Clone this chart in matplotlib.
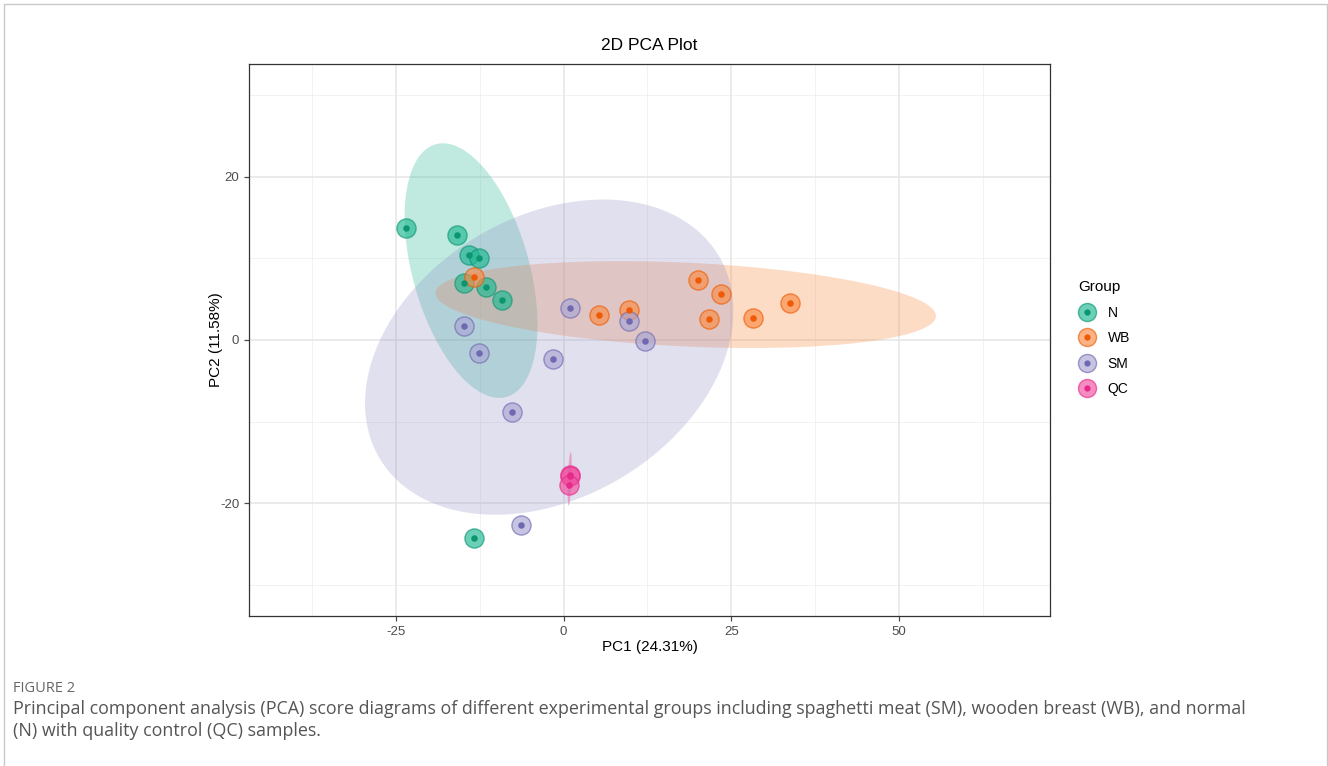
import numpy as np
import matplotlib
matplotlib.use("Agg")
import matplotlib.pyplot as plt
from matplotlib.lines import Line2D

# ---------------- data ----------------
groups = ["N", "WB", "SM", "QC"]

n_pc1 = [-23.5, -15.9, -14.1, -12.6, -14.9, -11.5, -9.2, -13.4]
n_pc2 = [13.7, 12.8, 10.4, 10.0, 7.0, 6.5, 4.9, -24.2]

wb_pc1 = [-13.4, 5.2, 9.7, 20.1, 23.4, 21.6, 28.3, 33.8]
wb_pc2 = [7.7, 3.1, 3.7, 7.3, 5.6, 2.6, 2.7, 4.5]

sm_pc1 = [-14.9, -12.6, -1.6, -7.7, -6.4, 1.0, 9.8, 12.1]
sm_pc2 = [1.7, -1.6, -2.3, -8.8, -22.6, 3.9, 2.3, -0.1]

qc_pc1 = [0.95, 1.0, 0.85]
qc_pc2 = [-16.5, -16.7, -17.7]

# confidence ellipse parameters: centre and shape matrix
ell_cx = [-13.8, 18.2, -2.15, 0.9]
ell_cy = [8.5, 4.34, -2.1, -17.0]
ell_sxx = [98.0, 1391.0, 753.5, 0.09]
ell_syy = [243.0, 28.3, 372.5, 10.9]
ell_sxy = [-65.5, -52.0, 155.0, 0.5]

x_ticks = [-25, 0, 25, 50]
y_ticks = [-20, 0, 20]

title = "2D PCA Plot"
xlabel = "PC1 (24.31%)"
ylabel = "PC2 (11.58%)"
caption_head = "FIGURE 2"
caption_text = ("Principal component analysis (PCA) score diagrams of different experimental groups including spaghetti meat (SM), wooden breast (WB), and normal\n"
                "(N) with quality control (QC) samples.")

# ---------------- style ----------------
outer_col = {"N": "#1DB892", "WB": "#FA8B45", "SM": "#A9A5D4", "QC": "#F0509F"}
dot_col = {"N": "#0B9670", "WB": "#EE5A05", "SM": "#6E69B0", "QC": "#E7298A"}
ell_col = {"N": "#1FB592", "WB": "#F98B45", "SM": "#8C88BF", "QC": "#E7298A"}
ell_alpha = {"N": 0.28, "WB": 0.30, "SM": 0.26, "QC": 0.35}

plt.rcParams['font.family'] = ['Liberation Sans', 'DejaVu Sans']
plt.rcParams['axes.unicode_minus'] = False

W, H = 1328, 766
fig = plt.figure(figsize=(W / 100, H / 100), dpi=100)
ax = fig.add_axes([249 / W, 1 - 616 / H, (1050 - 249) / W, (616 - 64) / H])

ax.set_xlim(-46.9, 72.5)
ax.set_ylim(-33.8, 33.8)

# grid (theme_bw)
for v in [-37.5, -12.5, 12.5, 37.5, 62.5]:
    ax.axvline(v, color="#F0F0F0", lw=0.6, zorder=0)
for v in [-30, -10, 10, 30]:
    ax.axhline(v, color="#F0F0F0", lw=0.6, zorder=0)
for v in x_ticks:
    ax.axvline(v, color="#E6E6E6", lw=1.1, zorder=0)
for v in y_ticks:
    ax.axhline(v, color="#E6E6E6", lw=1.1, zorder=0)

# ellipses
t = np.linspace(0, 2 * np.pi, 300)
for i, g in enumerate(groups):
    M = np.array([[ell_sxx[i], ell_sxy[i]], [ell_sxy[i], ell_syy[i]]])
    L = np.linalg.cholesky(M)
    pts = L @ np.vstack([np.cos(t), np.sin(t)])
    ax.fill(ell_cx[i] + pts[0], ell_cy[i] + pts[1], color=ell_col[g],
            alpha=ell_alpha[g], lw=0, zorder=1)

data = {"N": (n_pc1, n_pc2), "WB": (wb_pc1, wb_pc2),
        "SM": (sm_pc1, sm_pc2), "QC": (qc_pc1, qc_pc2)}
for g in groups:
    xs, ys = data[g]
    ax.scatter(xs, ys, s=190, facecolor=outer_col[g], edgecolor=dot_col[g],
               linewidths=1.0, alpha=0.65, zorder=3)
    ax.scatter(xs, ys, s=22, color=dot_col[g], lw=0, zorder=4)

ax.set_xticks(x_ticks)
ax.set_yticks(y_ticks)
ax.tick_params(axis="both", labelsize=9.5, colors="#4D4D4D", length=3.5, width=0.9)
for s in ax.spines.values():
    s.set_color("#333333")
    s.set_linewidth(0.9)

ax.set_title(title, fontsize=12.5, pad=10)
ax.set_xlabel(xlabel, fontsize=11, labelpad=2)
ax.set_ylabel(ylabel, fontsize=11, labelpad=-2)

# legend
handles = []
for g in groups:
    handles.append((Line2D([], [], marker="o", ls="", markersize=13,
                           markerfacecolor=outer_col[g], markeredgecolor=dot_col[g],
                           markeredgewidth=1.0, alpha=0.65),
                    Line2D([], [], marker="o", ls="", markersize=4.5,
                           markerfacecolor=dot_col[g], markeredgewidth=0)))
leg = fig.legend(handles, groups, title="Group", loc="upper left",
                 bbox_to_anchor=(1066 / W, 1 - 268 / H), frameon=False,
                 fontsize=10, title_fontsize=11, handlelength=1.2,
                 handletextpad=0.9, labelspacing=0.82)
leg._legend_box.align = "left"

# caption
fig.text(13 / W, 1 - 688 / H, caption_head, fontsize=10.5, color="#666666",
         family=["Open Sans", "DejaVu Sans"], va="center", ha="left")
fig.text(13 / W, 1 - 720 / H, caption_text, fontsize=12.9, color="#555555",
         family=["Open Sans", "DejaVu Sans"], va="center", ha="left",
         linespacing=1.35)

# outer frame
fig.add_artist(Line2D([4 / W, 4 / W, 1327 / W, 1327 / W],
                      [0, 1 - 4 / H, 1 - 4 / H, 0],
                      transform=fig.transFigure, color="#C8C8C8", lw=1.0))

fig.savefig("out.png", dpi=100)
